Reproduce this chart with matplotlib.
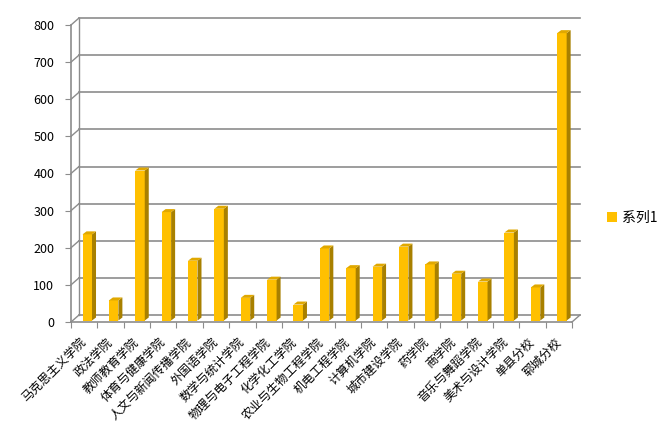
import numpy as np
import matplotlib.pyplot as plt
from matplotlib.patches import Polygon, Patch

plt.rcParams['font.family'] = ['Noto Sans CJK SC', 'DejaVu Sans']

colleges = ['马克思主义学院', '政法学院', '教师教育学院', '体育与健康学院', '人文与新闻传播学院',
            '外国语学院', '数学与统计学院', '物理与电子工程学院', '化学化工学院', '农业与生物工程学院',
            '机电工程学院', '计算机学院', '城市建设学院', '药学院', '商学院',
            '音乐与舞蹈学院', '美术与设计学院', '单县分校', '郓城分校']
counts = [232, 54, 404, 292, 161, 301, 61, 110, 43, 194,
          141, 145, 199, 151, 126, 105, 237, 89, 774]
y_ticks = list(range(0, 801, 100))
series_name = '系列1'

front = '#FFC000'
side = '#A88000'
top = '#E0A800'
grid = '#8c8c8c'

fig = plt.figure(figsize=(6.65, 4.34), dpi=100)
ax = fig.add_axes([71 / 665, 1 - 322 / 434, 501 / 665, 297 / 434])
n = len(colleges)
ax.set_xlim(-0.5, n - 0.5)
ax.set_ylim(0, 800)
for s in ax.spines.values():
    s.set_visible(False)


def px(dx, dy):
    # pixel offset -> data offset
    x0, y0 = ax.transData.transform((0, 0))
    return ax.transData.inverted().transform((x0 + dx, y0 + dy))


wx, wy = px(8, 7)    # wall depth
bx, by = px(4, 3)    # bar depth
fx, fy = px(1.5, 1.5)  # bar position inside the box

left, right = -0.5, n - 0.5
# back wall gridlines + left wall diagonals
for t in y_ticks:
    ax.plot([left + wx, right + wx], [t + wy, t + wy], color=grid, lw=1.2, clip_on=False, zorder=1)
    ax.plot([left, left + wx], [t, t + wy], color=grid, lw=1, clip_on=False, zorder=1)
# floor and walls
ax.plot([left, right], [0, 0], color=grid, lw=1.2, clip_on=False, zorder=1)
ax.plot([right, right + wx], [0, wy], color=grid, lw=1, clip_on=False, zorder=1)
ax.plot([left, left], [0, 800], color=grid, lw=1.2, clip_on=False, zorder=1)
ax.plot([left + wx, left + wx], [wy, 800 + wy], color=grid, lw=1, clip_on=False, zorder=1)

# bars
w = 0.36
x = np.arange(n) + 0.06 + fx
ax.bar(x, counts, width=w, bottom=fy, color=front, zorder=3, clip_on=False)
for xi, v in zip(x, counts):
    x0 = xi - w / 2
    y0 = fy
    ax.add_patch(Polygon([(x0 + w, y0), (x0 + w, y0 + v), (x0 + w + bx, y0 + v + by), (x0 + w + bx, y0 + by)],
                         closed=True, facecolor=side, edgecolor='none', zorder=3, clip_on=False))
    ax.add_patch(Polygon([(x0, y0 + v), (x0 + w, y0 + v), (x0 + w + bx, y0 + v + by), (x0 + bx, y0 + v + by)],
                         closed=True, facecolor=top, edgecolor='none', zorder=3, clip_on=False))

# ticks
ax.set_yticks(y_ticks)
ax.tick_params(axis='y', length=4, color=grid, labelsize=9, pad=8)
ax.set_xticks(np.arange(-0.5, n, 1))
ax.set_xticklabels([])
ax.tick_params(axis='x', which='major', length=4, color=grid)
ax.set_xticks(np.arange(n), minor=True)
ax.set_xticklabels(colleges, minor=True, rotation=45, ha='right', va='center', rotation_mode='anchor', fontsize=8.7)
ax.tick_params(axis='x', which='minor', length=0, pad=13)

fig.legend(handles=[Patch(facecolor=front, label=series_name)], loc='center left',
           bbox_to_anchor=(607 / 665, 1 - 218 / 434), frameon=False, borderpad=0, borderaxespad=0,
           handlelength=0.7, handleheight=0.7, handletextpad=0.35, fontsize=10)

fig.savefig('out.png', dpi=100)
